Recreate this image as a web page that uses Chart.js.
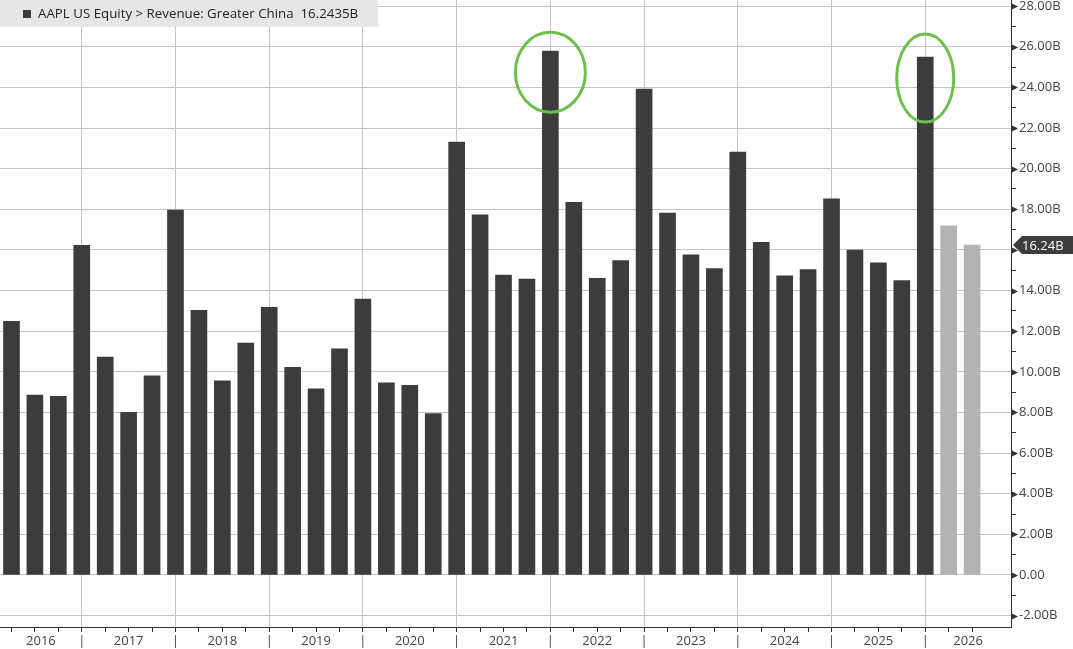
<!DOCTYPE html>
<html>
<head>
<meta charset="utf-8">
<script src="https://cdn.jsdelivr.net/npm/chart.js@4.4.1/dist/chart.umd.min.js"></script>
<style>
html, body { margin: 0; padding: 0; background: #fff; }
#wrap { width: 1073px; height: 649px; }
</style>
</head>
<body>
<div id="wrap"><canvas id="revenueChart" width="1073" height="649"></canvas></div>
<script>
// quarterly revenue, Greater China, in billions of USD
const quarters = [
    '2016Q1', '2016Q2', '2016Q3', '2016Q4',
    '2017Q1', '2017Q2', '2017Q3', '2017Q4',
    '2018Q1', '2018Q2', '2018Q3', '2018Q4',
    '2019Q1', '2019Q2', '2019Q3', '2019Q4',
    '2020Q1', '2020Q2', '2020Q3', '2020Q4',
    '2021Q1', '2021Q2', '2021Q3', '2021Q4',
    '2022Q1', '2022Q2', '2022Q3', '2022Q4',
    '2023Q1', '2023Q2', '2023Q3', '2023Q4',
    '2024Q1', '2024Q2', '2024Q3', '2024Q4',
    '2025Q1', '2025Q2', '2025Q3', '2025Q4',
    '2026Q1', '2026Q2'
];
const revenue = [
    12.49, 8.85, 8.79, 16.23,
    10.73, 8.00, 9.80, 17.96,
    13.02, 9.55, 11.41, 13.17,
    10.22, 9.16, 11.13, 13.58,
    9.46, 9.33, 7.95, 21.31,
    17.73, 14.76, 14.56, 25.78,
    18.34, 14.60, 15.47, 23.91,
    17.81, 15.76, 15.08, 20.82,
    16.37, 14.73, 15.03, 18.51,
    15.99, 15.37, 14.49, 25.49,
    17.18, 16.2435
];
const estimateQuarters = ['2026Q1', '2026Q2'];
const years = ['2016', '2017', '2018', '2019', '2020', '2021', '2022', '2023', '2024', '2025', '2026'];
const yTickValues = [-2, 0, 2, 4, 6, 8, 10, 12, 14, 16, 18, 20, 22, 24, 26, 28];
const circledQuarters = ['2021Q4', '2025Q4'];

const legendText = 'AAPL US Equity > Revenue: Greater China  ' + revenue[revenue.length - 1].toFixed(4) + 'B';
const lastValue = revenue[revenue.length - 1];

const X_MIN = -0.49;
const X_MAX = 42.66;
const FONT = '"Open Sans", "Noto Sans", sans-serif';

// index of each Q4, which Bloomberg puts on the year border
const yearBorders = quarters.map((q, i) => q.endsWith('Q4') ? i : null).filter(i => i !== null);
// year labels sit in the middle of the visible part of each year
const yearLabelPos = years.map((yr, k) => {
    const start = k === 0 ? X_MIN : yearBorders[k - 1];
    const end = k < yearBorders.length ? yearBorders[k] : X_MAX;
    return (start + end) / 2;
});

const barColors = quarters.map(q => estimateQuarters.includes(q) ? '#b3b3b3' : '#3c3c3c');

const overlayPlugin = {
    id: 'bbgOverlay',
    afterDraw(chart) {
        const {ctx, chartArea} = chart;
        const x = chart.scales.x;
        const y = chart.scales.y;
        ctx.save();

        // triangles on the major y ticks
        ctx.fillStyle = '#333';
        yTickValues.forEach(v => {
            const py = Math.round(y.getPixelForValue(v)) + 0.5;
            ctx.beginPath();
            ctx.moveTo(chartArea.right + 1, py - 3);
            ctx.lineTo(chartArea.right + 7, py);
            ctx.lineTo(chartArea.right + 1, py + 3);
            ctx.closePath();
            ctx.fill();
        });

        // last value tag
        const ty = Math.round(y.getPixelForValue(lastValue));
        ctx.fillStyle = '#3d3d3d';
        ctx.beginPath();
        ctx.moveTo(chartArea.right + 2, ty);
        ctx.lineTo(chartArea.right + 11, ty - 9);
        ctx.lineTo(chart.width, ty - 9);
        ctx.lineTo(chart.width, ty + 9);
        ctx.lineTo(chartArea.right + 11, ty + 9);
        ctx.closePath();
        ctx.fill();
        ctx.fillStyle = '#fff';
        ctx.font = '13px ' + FONT;
        ctx.textBaseline = 'middle';
        ctx.fillText(lastValue.toFixed(2) + 'B', chartArea.right + 11, ty + 1);

        // legend box
        ctx.font = '13.3px ' + FONT;
        const tw = ctx.measureText(legendText).width;
        ctx.fillStyle = '#e6e6e6';
        ctx.fillRect(0, 0, 38 + tw + 20, 27);
        ctx.fillStyle = '#3c3c3c';
        ctx.fillRect(23, 10, 8, 8);
        ctx.fillStyle = '#222';
        ctx.fillText(legendText, 38, 14);

        // green rings
        ctx.strokeStyle = '#6dbf4e';
        ctx.lineWidth = 3;
        const ringSize = [[35, 40], [28.5, 44]];
        circledQuarters.forEach((q, k) => {
            const i = quarters.indexOf(q);
            const cx = x.getPixelForValue(i);
            const cy = y.getPixelForValue(revenue[i]) + 21;
            ctx.beginPath();
            ctx.ellipse(cx, cy, ringSize[k][0], ringSize[k][1], 0, 0, Math.PI * 2);
            ctx.stroke();
        });
        ctx.restore();
    }
};

const ctx = document.getElementById('revenueChart').getContext('2d');
const chart = new Chart(ctx, {
    type: 'bar',
    data: {
        datasets: [{
            label: 'Revenue: Greater China',
            data: revenue.map((v, i) => ({x: i, y: v})),
            backgroundColor: barColors,
            borderWidth: 0,
            barThickness: 16,
        }]
    },
    options: {
        responsive: false,
        devicePixelRatio: 1,
        animation: false,
        layout: {padding: 0, autoPadding: false},
        plugins: {
            legend: {display: false},
            tooltip: {enabled: false},
        },
        scales: {
            x: {
                type: 'linear',
                offset: false,
                min: X_MIN,
                max: X_MAX,
                afterBuildTicks: (scale) => {
                    const vals = new Set(quarters.map((q, i) => i));
                    yearLabelPos.forEach(p => vals.add(p));
                    scale.ticks = [...vals].sort((a, b) => a - b).map(v => ({value: v}));
                },
                afterFit: (scale) => {
                    scale.height = 22;
                    scale.paddingLeft = 0;
                    scale.paddingRight = 0;
                },
                grid: {
                    offset: false,
                    color: (c) => yearBorders.includes(c.tick && c.tick.value) ? '#c4c4c4' : 'rgba(0,0,0,0)',
                    tickColor: (c) => c.tick && Number.isInteger(c.tick.value) ? '#333' : 'rgba(0,0,0,0)',
                    tickLength: 5,
                    lineWidth: 1,
                },
                border: {display: true, color: '#333', width: 1},
                ticks: {
                    autoSkip: false,
                    maxRotation: 0,
                    padding: 1,
                    color: '#444',
                    font: {family: FONT, size: 13},
                    callback: (value) => {
                        const k = yearLabelPos.indexOf(value);
                        if (k >= 0) return years[k];
                        if (yearBorders.includes(value)) return '|';
                        return '';
                    }
                }
            },
            y: {
                position: 'right',
                min: -2.56,
                max: 28.3,
                afterBuildTicks: (scale) => {
                    const t = [];
                    for (let v = yTickValues[0]; v <= yTickValues[yTickValues.length - 1]; v += 1) t.push({value: v});
                    scale.ticks = t;
                },
                afterFit: (scale) => {
                    scale.width = 62;
                    scale.paddingTop = 0;
                    scale.paddingBottom = 0;
                },
                grid: {
                    color: (c) => c.tick && yTickValues.includes(c.tick.value) ? '#c4c4c4' : 'rgba(0,0,0,0)',
                    tickColor: (c) => c.tick && yTickValues.includes(c.tick.value) ? 'rgba(0,0,0,0)' : '#333',
                    tickLength: 5,
                    lineWidth: 1,
                },
                border: {display: true, color: '#333', width: 1},
                ticks: {
                    padding: 3,
                    color: '#444',
                    font: {family: FONT, size: 13},
                    callback: (value) => {
                        if (!yTickValues.includes(value)) return '';
                        return value === 0 ? '0.00' : value.toFixed(2) + 'B';
                    }
                }
            }
        }
    },
    plugins: [overlayPlugin]
});
</script>
</body>
</html>
